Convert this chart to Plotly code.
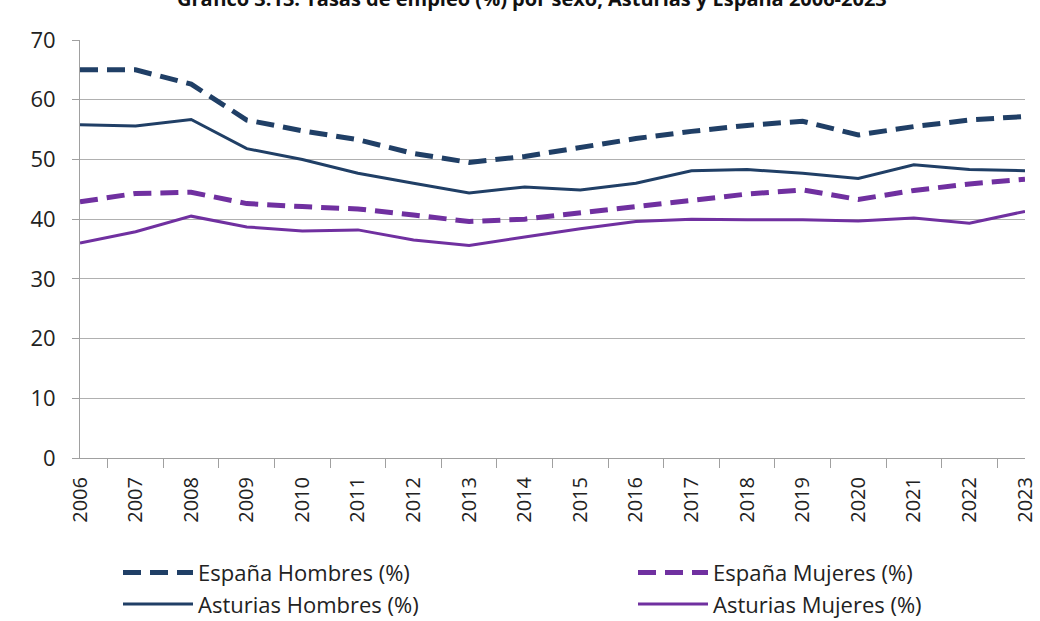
import plotly.graph_objects as go

years = [str(y) for y in range(2006, 2024)]
espana_hombres = [65.0, 65.0, 62.6, 56.6, 54.8, 53.3, 51.0, 49.5, 50.5, 52.1, 53.5, 54.7, 55.7, 56.4, 54.1, 55.5, 56.6, 57.2]
espana_mujeres = [42.9, 44.3, 44.5, 42.6, 42.1, 41.7, 40.7, 39.6, 40.0, 41.1, 42.2, 43.3, 44.2, 44.9, 43.3, 44.8, 45.9, 46.7]
asturias_hombres = [55.8, 55.6, 56.7, 51.8, 50.0, 47.7, 46.0, 44.4, 45.4, 44.9, 46.0, 48.1, 48.3, 47.7, 46.8, 49.1, 48.3, 48.1]
asturias_mujeres = [36.0, 37.9, 40.5, 38.7, 38.0, 38.2, 36.5, 35.6, 37.0, 38.4, 39.6, 40.0, 39.9, 39.9, 39.7, 40.2, 39.3, 41.3]

navy = "#203F66"
purple = "#7030A0"
dash = "18px,9px"

fig = go.Figure()
fig.add_trace(go.Scatter(x=years, y=espana_hombres, name="España Hombres (%)", mode="lines",
                         line=dict(color=navy, width=5, dash=dash), legend="legend"))
fig.add_trace(go.Scatter(x=years, y=espana_mujeres, name="España Mujeres (%)", mode="lines",
                         line=dict(color=purple, width=5, dash=dash), legend="legend2"))
fig.add_trace(go.Scatter(x=years, y=asturias_hombres, name="Asturias Hombres (%)", mode="lines",
                         line=dict(color=navy, width=3), legend="legend"))
fig.add_trace(go.Scatter(x=years, y=asturias_mujeres, name="Asturias Mujeres (%)", mode="lines",
                         line=dict(color=purple, width=3), legend="legend2"))

font_family = "Open Sans, sans-serif"
legend_font = dict(family=font_family, size=22, color="#222222")

fig.update_layout(
    width=1040, height=621,
    margin=dict(l=80, r=15, t=40, b=163, autoexpand=False),
    paper_bgcolor="white", plot_bgcolor="white",
    font=dict(family=font_family, size=20, color="#222222"),
    showlegend=True,
    legend=dict(orientation="v", x=(118 - 80) / 945, y=-0.224, xanchor="left", yanchor="top",
                itemwidth=70, font=legend_font, tracegroupgap=0, bgcolor="rgba(0,0,0,0)"),
    legend2=dict(orientation="v", x=(633 - 80) / 945, y=-0.224, xanchor="left", yanchor="top",
                 itemwidth=70, font=legend_font, tracegroupgap=0, bgcolor="rgba(0,0,0,0)"),
    annotations=[dict(text="<b>Gráfico 3.13. Tasas de empleo (%) por sexo, Asturias y España 2006-2023</b>",
                      xref="paper", yref="paper", x=(532 - 80) / 945, y=(418 + 42) / 418,
                      xanchor="center", yanchor="middle",
                      showarrow=False, font=dict(family="Open Sans, sans-serif", size=20, color="#111111"))],
)
fig.update_xaxes(type="category", tickangle=-90, showline=True, linecolor="#a0a0a0", linewidth=1,
                 ticks="outside", tickson="boundaries", ticklen=9, tickcolor="#a0a0a0",
                 showgrid=False, automargin=False, ticklabelstandoff=10,
                 tickfont=dict(family=font_family, size=20, color="#222222"))
fig.update_yaxes(range=[0, 70], dtick=10, showline=True, linecolor="#a0a0a0", linewidth=1,
                 ticks="outside", ticklen=7, tickcolor="#a0a0a0", ticklabelstandoff=12,
                 showgrid=True, gridcolor="#b0b0b0", gridwidth=1, zeroline=False, automargin=False,
                 tickfont=dict(family=font_family, size=22, color="#222222"))

fig.write_html("out.html", config={"displayModeBar": False},
               post_script="document.body.style.margin='0px';document.body.style.overflow='hidden';")
